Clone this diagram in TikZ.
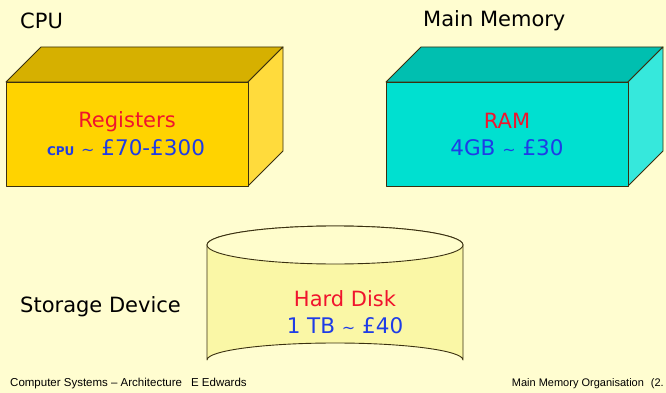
\documentclass[tikz,border=0pt]{standalone}
\usepackage{fontspec}
\setmainfont{DejaVu Sans}
\newfontfamily\footfont{Liberation Sans}
\definecolor{bg}{HTML}{FFFDD0}
\definecolor{cpufront}{HTML}{FFD300}
\definecolor{cputop}{HTML}{D6B000}
\definecolor{cpuside}{HTML}{FFDB3C}
\definecolor{ramfront}{HTML}{00E0D0}
\definecolor{ramtop}{HTML}{00BFB0}
\definecolor{ramside}{HTML}{36E8DC}
\definecolor{diskbody}{HTML}{FAF7A6}
\definecolor{disktop}{HTML}{FFFDCC}
\definecolor{lblred}{HTML}{F0142D}
\definecolor{lblblue}{HTML}{1E3CE6}
\definecolor{edge}{HTML}{3A3010}
\begin{document}
\begin{tikzpicture}[x=1pt,y=-1pt,
  face/.style={draw=edge,line width=0.9pt,line join=round},
  title/.style={font=\fontsize{21}{24}\selectfont,text=black,inner sep=0pt},
  redlbl/.style={font=\fontsize{21}{24}\selectfont,text=lblred,inner sep=0pt},
  bluelbl/.style={font=\fontsize{21.5}{24}\selectfont,text=lblblue,inner sep=0pt},
  foot/.style={font=\footfont\fontsize{11.5}{13}\selectfont,text=black,inner sep=0pt}]
\fill[bg] (0,0) rectangle (666,393);
\useasboundingbox (0,0) rectangle (666,393);
% CPU box
\filldraw[face,fill=cputop] (6,82) -- (41,47) -- (283,47) -- (248,82) -- cycle;
\filldraw[face,fill=cpuside] (248,82) -- (283,47) -- (283,151) -- (248,186) -- cycle;
\filldraw[face,fill=cpufront] (6,82) rectangle (248,186);
% RAM box
\filldraw[face,fill=ramtop] (386,82) -- (421,47) -- (663,47) -- (628,82) -- cycle;
\filldraw[face,fill=ramside] (628,82) -- (663,47) -- (663,151) -- (628,186) -- cycle;
\filldraw[face,fill=ramfront] (386,82) rectangle (628,186);
% Disk cylinder
\filldraw[face,fill=diskbody] (207,245) -- (207,360) arc[start angle=180,end angle=360,x radius=128,y radius=17] -- (463,245) arc[start angle=0,end angle=-180,x radius=128,y radius=19] -- cycle;
\filldraw[face,fill=disktop] (335,245) ellipse[x radius=128,y radius=19];
% labels
\node[title,anchor=west] (cpu) at (20,21) {CPU};
\node[title,anchor=west] (mm) at (423,21) {Main Memory};
\node[title,anchor=west] (sd) at (20,307) {Storage Device};
\node[redlbl] (reg) at (127,122) {Registers};
\node[bluelbl] (regp) at (126,148) {{\fontsize{12}{14}\selectfont\bfseries CPU} {\fontsize{16}{18}\selectfont\textasciitilde} £70-£300};
\node[redlbl] (ram) at (507,121) {RAM};
\node[bluelbl] (ramp) at (507,148) {4GB {\fontsize{16}{18}\selectfont\textasciitilde} £30};
\node[redlbl] (hd) at (345,299) {Hard Disk};
\node[bluelbl] (hdp) at (345,326) {1 TB {\fontsize{16}{18}\selectfont\textasciitilde} £40};
\node[foot,anchor=west] (f1) at (10,384) {Computer Systems – Architecture\hspace{9pt}E Edwards};
\node[foot,anchor=east,font=\footfont\fontsize{11}{13}\selectfont] (f2) at (664,384) {Main Memory Organisation\hspace{7pt}(2.};
\end{tikzpicture}
\end{document}
